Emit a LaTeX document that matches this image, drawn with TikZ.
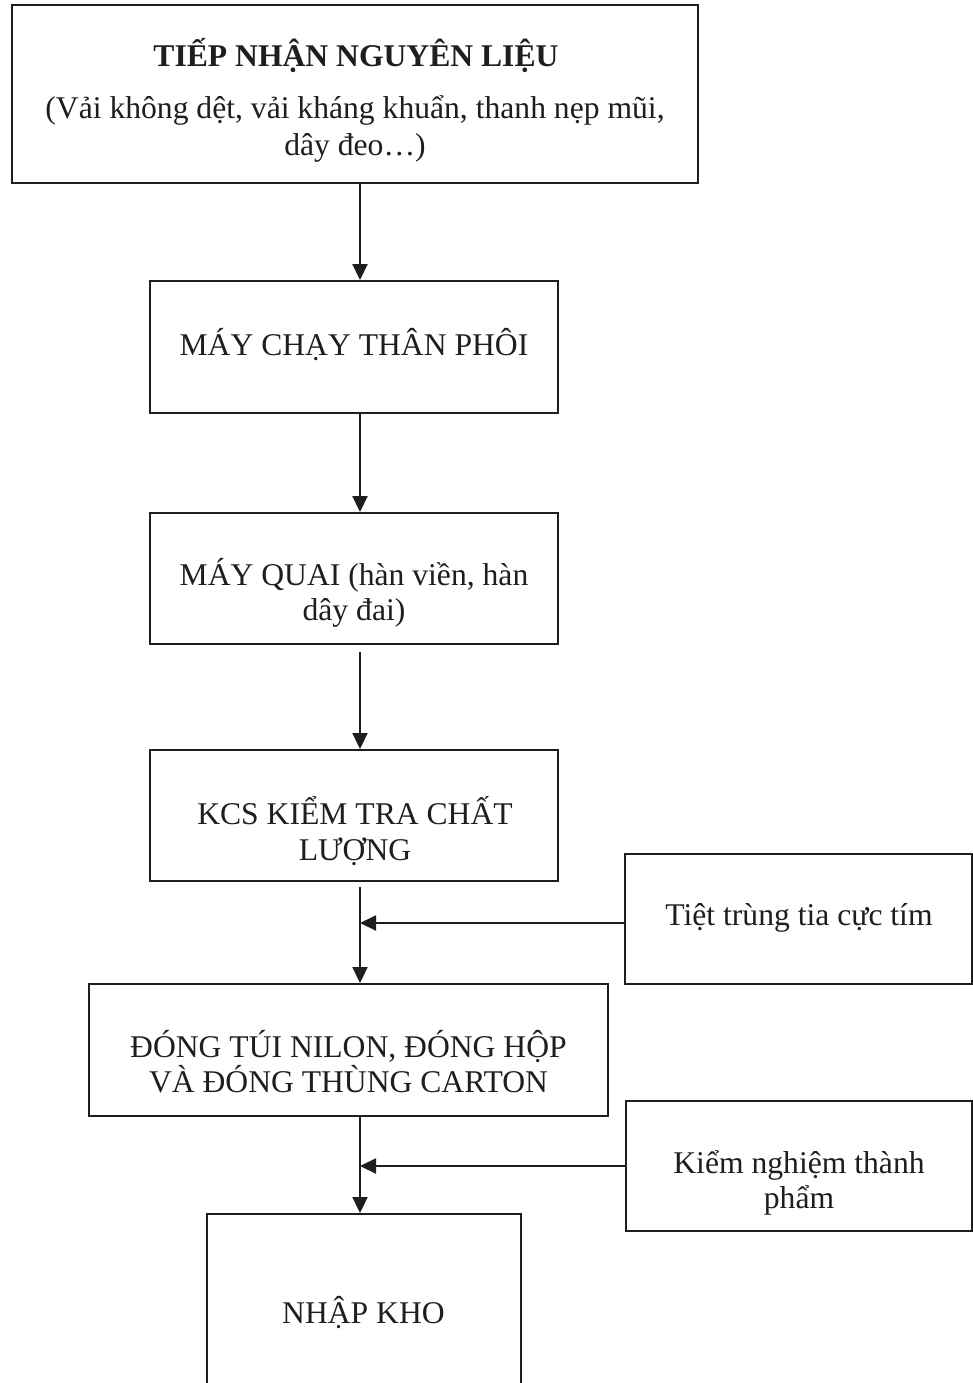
\documentclass[tikz,border=0pt]{standalone}
\usepackage{fontspec}
\setmainfont{Liberation Serif}
\usetikzlibrary{arrows.meta}
\definecolor{ink}{RGB}{30,30,30}
\begin{document}
\begin{tikzpicture}[x=0.02cm,y=-0.02cm,
  boxnode/.style={draw=ink, line width=1.1pt, rectangle, inner sep=0pt},
  txt/.style={anchor=base, inner sep=0pt, text=ink, font=\fontsize{18}{21}\selectfont},
  flow/.style={draw=ink, line width=1.1pt, -{Triangle[length=0.32cm,width=0.3cm]}}]
\useasboundingbox (0,0) rectangle (973,1383);
\clip (0,0) rectangle (973,1383);
\fill[white] (0,0) rectangle (973,1383);
% boxes
\node[boxnode, minimum width=13.72cm, minimum height=3.56cm] (b1) at (355,94) {};
\node[boxnode, minimum width=8.16cm, minimum height=2.64cm] (b2) at (354,347) {};
\node[boxnode, minimum width=8.16cm, minimum height=2.62cm] (b3) at (354,578.5) {};
\node[boxnode, minimum width=8.16cm, minimum height=2.62cm] (b4) at (354,815.5) {};
\node[boxnode, minimum width=10.38cm, minimum height=2.64cm] (b5) at (348.5,1050) {};
\node[boxnode, minimum width=6.28cm, minimum height=3.92cm] (b6) at (364,1312) {};
\node[boxnode, minimum width=6.94cm, minimum height=2.6cm] (s1) at (798.5,919) {};
\node[boxnode, minimum width=6.92cm, minimum height=2.6cm] (s2) at (799,1166) {};
% texts
\node[txt, font=\fontsize{18}{21}\selectfont\bfseries] (t1a) at (356,66) {TIẾP NHẬN NGUYÊN LIỆU};
\node[txt] (t1b) at (355,118) {(Vải không dệt, vải kháng khuẩn, thanh nẹp mũi,};
\node[txt] (t1c) at (355,155) {dây đeo…)};
\node[txt] (t2) at (354,355) {MÁY CHẠY THÂN PHÔI};
\node[txt] (t3a) at (354,585) {MÁY QUAI (hàn viền, hàn};
\node[txt] (t3b) at (354,620) {dây đai)};
\node[txt] (t4a) at (355,824) {KCS KIỂM TRA CHẤT};
\node[txt] (t4b) at (355,860) {LƯỢNG};
\node[txt] (t5a) at (348.5,1057) {ĐÓNG TÚI NILON, ĐÓNG HỘP};
\node[txt] (t5b) at (348.5,1092) {VÀ ĐÓNG THÙNG CARTON};
\node[txt] (t6) at (363.5,1323) {NHẬP KHO};
\node[txt] (ts1) at (799,925) {Tiệt trùng tia cực tím};
\node[txt] (ts2a) at (799,1173) {Kiểm nghiệm thành};
\node[txt] (ts2b) at (799,1208) {phẩm};
% connectors
\coordinate (ax) at (360,0);
\draw[flow] (b1.south -| ax) -- (b2.north -| ax);
\draw[flow] (b2.south -| ax) -- (b3.north -| ax);
\draw[flow, shorten <=0.14cm] (b3.south -| ax) -- (b4.north -| ax);
\draw[flow, shorten <=0.1cm] (b4.south -| ax) -- (b5.north -| ax);
\draw[flow] (b5.south -| ax) -- (b6.north -| ax);
\coordinate (s1a) at ([yshift=-0.08cm]s1.west);
\draw[flow] (s1a) -- (s1a -| ax);
\draw[flow] (s2.west) -- (s2.west -| ax);
\end{tikzpicture}
\end{document}
